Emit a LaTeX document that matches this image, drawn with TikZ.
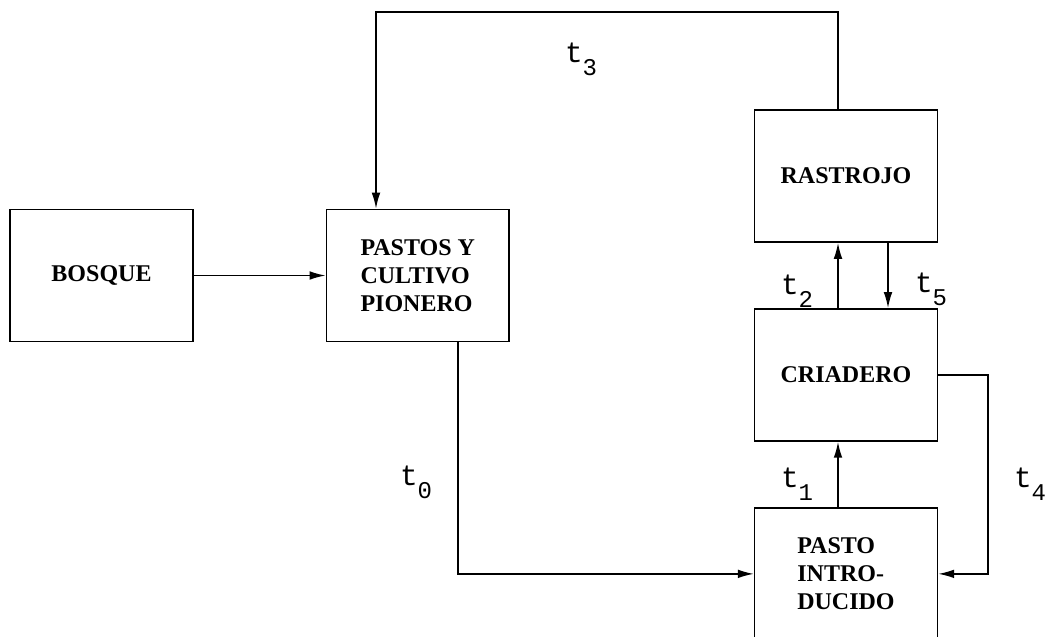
\documentclass[tikz,border=0pt]{standalone}
\usepackage{fontspec}
\setmainfont{Liberation Serif}
\newfontfamily\labelfont{Liberation Mono}
\usetikzlibrary{arrows.meta, positioning}
\tikzset{
    box/.style={rectangle, draw, line width=1.2pt, minimum width=137pt, minimum height=99pt, text centered, inner sep=2pt, font=\fontsize{18}{21}\selectfont\bfseries},
    arrow/.style={line width=1.2pt,->,>={Latex[length=12pt,width=6.5pt]}},
    tlabel/.style={font=\labelfont\fontsize{22}{22}\selectfont, inner sep=0pt}
}
\newcommand{\tsub}[1]{t\raisebox{-0.45em}{\fontsize{18}{18}\selectfont #1}}

\begin{document}
\begin{tikzpicture}[x=0.75pt, y=-0.75pt, node distance=49pt and 99pt]
    \useasboundingbox (0,0) rectangle (1046,636);
    % Place nodes
    \node [box] (bosque) at (101.5,275.5) {BOSQUE};
    \node [box, right=of bosque, align=left] (pastos) {PASTOS Y\\CULTIVO\\PIONERO};
    \node [box] (rastrojo) at (846,176) {RASTROJO};
    \node [box, below=of rastrojo] (criadero) {CRIADERO};
    \node [box, below=of criadero, align=left] (pasto) {PASTO\\INTRO-\\DUCIDO};
    \coordinate (top) at (376,12);

    % Labels
    \node [tlabel] (t0) at (416,482) {\tsub{0}};
    \node [tlabel] (t1) at (797,484) {\tsub{1}};
    \node [tlabel] (t2) at (797,291) {\tsub{2}};
    \node [tlabel] (t3) at (581,59) {\tsub{3}};
    \node [tlabel] (t4) at (1030,484) {\tsub{4}};
    \node [tlabel] (t5) at (931,289) {\tsub{5}};

    % Draw edges
    \draw [arrow] (bosque) -- (pastos);
    \draw [arrow] ([xshift=-6pt]rastrojo.north) |- (top) -- (top |- pastos.north);
    \draw [arrow] ([xshift=30pt]pastos.south) |- (pasto.west);
    \draw [arrow] ([xshift=-6pt]pasto.north) -- ([xshift=-6pt]criadero.south);
    \draw [arrow] ([xshift=-6pt]criadero.north) -- ([xshift=-6pt]rastrojo.south);
    \draw [arrow] ([xshift=31.5pt]rastrojo.south) -- ([xshift=31.5pt]criadero.north);
    \draw [arrow] (criadero.east) -- ++(37.5pt,0) |- (pasto.east);
\end{tikzpicture}
\end{document}
